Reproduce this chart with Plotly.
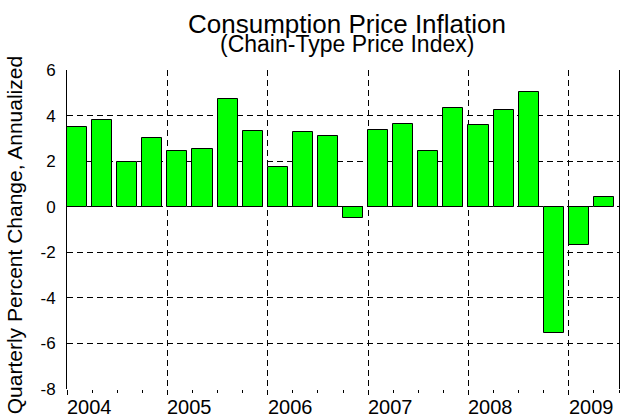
import plotly.graph_objects as go

# Data
quarters = ["2004Q1", "2004Q2", "2004Q3", "2004Q4",
            "2005Q1", "2005Q2", "2005Q3", "2005Q4",
            "2006Q1", "2006Q2", "2006Q3", "2006Q4",
            "2007Q1", "2007Q2", "2007Q3", "2007Q4",
            "2008Q1", "2008Q2", "2008Q3", "2008Q4",
            "2009Q1", "2009Q2"]
inflation = [3.51, 3.81, 1.95, 3.02,
             2.46, 2.52, 4.71, 3.31,
             1.76, 3.27, 3.10, -0.51,
             3.35, 3.62, 2.46, 4.32,
             3.60, 4.26, 5.02, -5.56,
             -1.70, 0.41]
year_labels = ["2004", "2005", "2006", "2007", "2008", "2009"]
y_ticks = [-8, -6, -4, -2, 0, 2, 4, 6]

# quarter slot start positions (in years) derived from labels
x_pos = [int(q[:4]) + (int(q[-1]) - 1) / 4 for q in quarters]

FONT = "Liberation Sans, Arial, sans-serif"

fig = go.Figure()
fig.add_trace(go.Bar(
    x=x_pos, y=inflation, width=0.2, offset=0,
    marker=dict(color="#00FF00", line=dict(color="#000000", width=1)),
    hoverinfo="y",
))

fig.update_layout(
    width=624, height=417,
    margin=dict(l=67, r=5, t=70, b=28, pad=0),
    paper_bgcolor="white", plot_bgcolor="white",
    showlegend=False,
    font=dict(family=FONT, color="black"),
    bargap=0,
)

fig.update_xaxes(
    range=[2004, 2009.5],
    tickmode="array", tickvals=[int(y) for y in year_labels],
    showticklabels=False,
    ticks="outside", ticklen=5, tickcolor="black", tickwidth=1,
    minor=dict(dtick=0.25, tick0=2004, ticks="outside", ticklen=3,
               tickcolor="black", showgrid=False),
    showgrid=True, gridcolor="#000000", gridwidth=1, griddash="6px,4px",
    showline=False, zeroline=False,
)

fig.update_yaxes(
    range=[-8, 6],
    tickmode="array", tickvals=y_ticks, ticktext=[str(v) for v in y_ticks],
    tickfont=dict(size=17, family=FONT, color="black"),
    ticks="", ticklabelstandoff=7,
    showgrid=True, gridcolor="#000000", gridwidth=1, griddash="6px,4px",
    showline=True, mirror=True, linecolor="black", linewidth=1,
    zeroline=False,
)

annotations = []
for yl in year_labels:
    annotations.append(dict(
        x=int(yl), y=0, xref="x", yref="paper",
        text=yl, showarrow=False, xanchor="left", yanchor="top",
        yshift=-5, xshift=-2,
        font=dict(size=20, family=FONT, color="black"),
    ))

annotations.append(dict(
    x=0.5, y=1, xref="paper", yref="paper", xshift=4, yshift=29,
    text="Consumption Price Inflation", showarrow=False,
    xanchor="center", yanchor="bottom",
    font=dict(size=26, family=FONT, color="black"),
))
annotations.append(dict(
    x=0.5, y=1, xref="paper", yref="paper", xshift=4, yshift=11,
    text="(Chain-Type Price Index)", showarrow=False,
    xanchor="center", yanchor="bottom",
    font=dict(size=23, family=FONT, color="black"),
))
annotations.append(dict(
    x=0, y=0.482, xref="paper", yref="paper", xshift=-53,
    text="Quarterly Percent Change, Annualized", showarrow=False,
    textangle=-90, xanchor="center", yanchor="middle",
    font=dict(size=21, family=FONT, color="black"),
))
fig.update_layout(annotations=annotations)

fig.write_html("out.html",
               config={"displayModeBar": False},
               post_script="document.body.style.margin='0';document.body.style.padding='0';")
